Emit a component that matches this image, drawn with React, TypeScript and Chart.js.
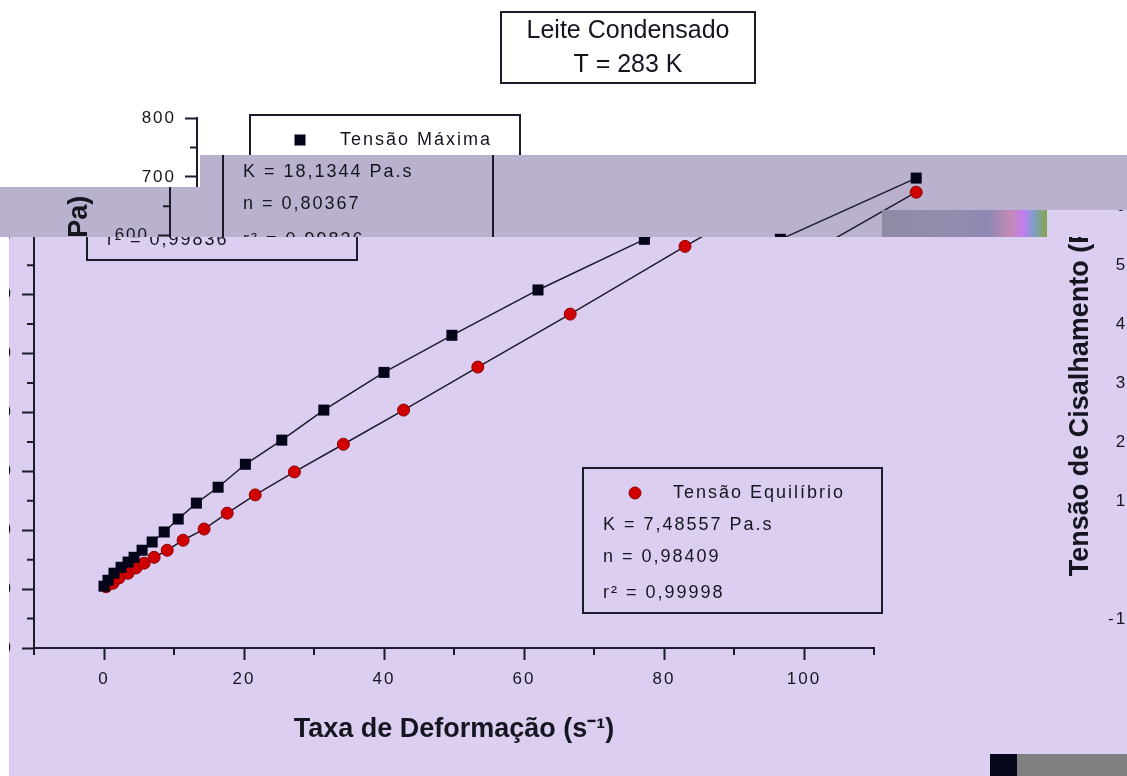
import React, { useEffect, useRef } from "react";
import { Chart, registerables } from "chart.js";

Chart.register(...registerables);

// ---------- data ----------
const maxRate = [0, 0.57, 1.43, 2.44, 3.44, 4.3, 5.44, 6.88, 8.6, 10.6, 13.2, 16.3, 20.2, 25.4, 31.4, 40.0, 49.7, 62.0, 77.2, 96.6];
const maxStress = [5, 15, 27, 37, 46, 54, 66, 80, 97, 119, 146, 173, 212, 253, 304, 368, 431, 508, 594, 698];
const eqRate = [0.29, 1.29, 2.15, 3.44, 4.58, 5.73, 7.16, 9.03, 11.3, 14.3, 17.6, 21.6, 27.2, 34.2, 42.8, 53.4, 66.6, 83.0, 96.6];
const eqStress = [4, 10, 19, 27, 36, 44, 54, 66, 83, 102, 129, 160, 199, 246, 304, 377, 467, 582, 674];

const xMajorTicks = [0, 20, 40, 60, 80, 100];
const xMinorTicks = [-10, 10, 30, 50, 70, 90, 110];
const yMajorTicks = [-100, 0, 100, 200, 300, 400, 500, 600, 700, 800];
const yMinorTicks = [-50, 50, 150, 250, 350, 450, 550, 650, 750];

const titleLines = ["Leite Condensado", "T = 283 K"];
const legendMax = ["Tensão Máxima", "K = 18,1344 Pa.s", "n = 0,80367", "r² = 0,99836"];
const legendEq = ["Tensão Equilíbrio", "K = 7,48557 Pa.s", "n = 0,98409", "r² = 0,99998"];
const xAxisTitle = "Taxa de Deformação (s⁻¹)";
const yAxisTitle = "Tensão de Cisalhamento (Pa)";

// ---------- styles ----------
const FONT = "'Liberation Sans', Arial, sans-serif";
const AXIS = "#1b1b2c";
const TEXT = "#151520";
const BLACK_PT = "#05051a";
const RED_PT = "#d00000";
const RED_EDGE = "#8c0000";
const LAVENDER = "#dccef0";
const BAND = "#b9b1cd";
const W = 1127;
const H = 776;

const spacingPlugin = {
  id: "spacing",
  beforeDraw(chart: any) {
    chart.ctx.letterSpacing = "0px";
  },
  beforeDatasetsDraw(chart: any) {
    chart.ctx.letterSpacing = "2px";
  },
  afterDraw(chart: any) {
    chart.ctx.letterSpacing = "0px";
  },
};

const minorTickPlugin = {
  id: "minorTicks",
  afterDraw(chart: any) {
    const { ctx, chartArea, scales } = chart;
    ctx.save();
    ctx.strokeStyle = AXIS;
    ctx.lineWidth = 2;
    ctx.beginPath();
    xMinorTicks.forEach((v) => {
      const px = scales.x.getPixelForValue(v);
      ctx.moveTo(px, chartArea.bottom);
      ctx.lineTo(px, chartArea.bottom + 7);
    });
    yMinorTicks.forEach((v) => {
      const py = scales.y.getPixelForValue(v);
      ctx.moveTo(chartArea.left - 7, py);
      ctx.lineTo(chartArea.left, py);
    });
    ctx.stroke();
    ctx.restore();
  },
};

function drawLegend(ctx: any, x: number, y: number, w: number, lines: string[], symbol: "square" | "circle") {
  const h = 145;
  ctx.lineWidth = 2;
  ctx.strokeStyle = AXIS;
  ctx.strokeRect(x, y, w, h);
  const rows = [25, 57, 89, 125];
  if (symbol === "square") {
    ctx.fillStyle = BLACK_PT;
    ctx.fillRect(x + 50 - 5.5, y + rows[0] - 5.5, 11, 11);
  } else {
    ctx.beginPath();
    ctx.arc(x + 52, y + rows[0], 6, 0, Math.PI * 2);
    ctx.fillStyle = RED_PT;
    ctx.fill();
    ctx.lineWidth = 1;
    ctx.strokeStyle = RED_EDGE;
    ctx.stroke();
  }
  ctx.fillStyle = TEXT;
  ctx.font = `18px ${FONT}`;
  ctx.letterSpacing = "2px";
  ctx.textAlign = "left";
  ctx.textBaseline = "middle";
  ctx.fillText(lines[0], x + 90, y + rows[0]);
  for (let i = 1; i < 4; i++) ctx.fillText(lines[i], x + 20, y + rows[i]);
}

const boxesPlugin = {
  id: "boxes",
  afterDraw(chart: any) {
    const { ctx } = chart;
    ctx.save();
    // title box
    ctx.lineWidth = 2;
    ctx.strokeStyle = AXIS;
    ctx.strokeRect(501, 12, 254, 71);
    ctx.fillStyle = TEXT;
    ctx.font = `25px ${FONT}`;
    ctx.letterSpacing = "0px";
    ctx.textAlign = "center";
    ctx.textBaseline = "middle";
    ctx.fillText(titleLines[0], 628, 31);
    ctx.fillText(titleLines[1], 628, 65);
    // legends
    drawLegend(ctx, 250, 115, 270, legendMax, "square");
    drawLegend(ctx, 746, 468, 299, legendEq, "circle");
    ctx.letterSpacing = "0px";
    ctx.restore();
  },
};

function ChartCanvas({ left, top }: { left: number; top: number }) {
  const ref = useRef<HTMLCanvasElement | null>(null);
  useEffect(() => {
    if (!ref.current) return;
    const chart = new Chart(ref.current, {
      type: "scatter",
      data: {
        datasets: [
          {
            label: legendMax[0],
            data: maxRate.map((x, i) => ({ x, y: maxStress[i] })),
            showLine: true,
            borderColor: AXIS,
            borderWidth: 1.5,
            pointStyle: "rect",
            pointRadius: 7.8,
            pointBackgroundColor: BLACK_PT,
            pointBorderColor: BLACK_PT,
            pointBorderWidth: 0,
          },
          {
            label: legendEq[0],
            data: eqRate.map((x, i) => ({ x, y: eqStress[i] })),
            showLine: true,
            borderColor: AXIS,
            borderWidth: 1.5,
            pointStyle: "circle",
            pointRadius: 6,
            pointBackgroundColor: RED_PT,
            pointBorderColor: RED_EDGE,
            pointBorderWidth: 1,
          },
        ],
      },
      options: {
        responsive: false,
        animation: false,
        devicePixelRatio: 1,
        events: [],
        layout: { padding: { left: 0, right: W - 1037, top: 118, bottom: 0 } },
        plugins: { legend: { display: false }, tooltip: { enabled: false }, title: { display: false } },
        scales: {
          x: {
            type: "linear",
            min: -10,
            max: 110,
            afterBuildTicks: (s: any) => {
              s.ticks = xMajorTicks.map((v) => ({ value: v }));
            },
            afterFit: (s: any) => {
              s.height = H - 648;
            },
            grid: { display: true, drawOnChartArea: false, drawTicks: true, tickLength: 12, tickWidth: 2, tickColor: AXIS },
            border: { display: true, color: AXIS, width: 2 },
            ticks: { z: 1, color: TEXT, padding: 9, font: { family: FONT, size: 17 }, maxRotation: 0, autoSkip: false },
            title: {
              display: true,
              text: xAxisTitle,
              color: TEXT,
              font: { family: FONT, size: 27, weight: "bold" },
              padding: { top: 0, bottom: 30 },
            },
          },
          y: {
            type: "linear",
            min: -100,
            max: 800,
            afterBuildTicks: (s: any) => {
              s.ticks = yMajorTicks.map((v) => ({ value: v }));
            },
            afterFit: (s: any) => {
              s.width = 197;
            },
            grid: { display: true, drawOnChartArea: false, drawTicks: true, tickLength: 12, tickWidth: 2, tickColor: AXIS },
            border: { display: true, color: AXIS, width: 2 },
            ticks: { z: 1, color: TEXT, padding: 9, font: { family: FONT, size: 17 }, autoSkip: false },
            title: {
              display: true,
              text: yAxisTitle,
              color: TEXT,
              font: { family: FONT, size: 27, weight: "bold" },
              padding: { top: 90, bottom: 0 },
            },
          },
        },
      } as any,
      plugins: [spacingPlugin, minorTickPlugin, boxesPlugin],
    });
    return () => chart.destroy();
  }, []);
  return (
    <canvas
      ref={ref}
      width={W}
      height={H}
      style={{ position: "absolute", left, top, width: W, height: H, display: "block" }}
    />
  );
}

// windows of the (damaged) picture: page rectangle + where the chart origin lands on the page
const layers = [
  { x: 0, y: 0, w: 1127, h: 155, ox: 0, oy: 0, bg: "#ffffff" },
  { x: 0, y: 155, w: 200, h: 32, ox: 0, oy: 0, bg: "#ffffff" },
  { x: 200, y: 155, w: 927, h: 82, ox: -27, oy: 0, bg: BAND },
  { x: 0, y: 187, w: 200, h: 50, ox: -27, oy: 0, bg: BAND },
  { x: 9, y: 237, w: 955, h: 539, ox: -163, oy: 0, bg: LAVENDER },
  { x: 964, y: 237, w: 140, h: 539, ox: 974, oy: 6, bg: LAVENDER },
  { x: 1104, y: 210, w: 23, h: 566, ox: 974, oy: -29, bg: LAVENDER },
];

function Layer({ x, y, w, h, ox, oy, bg }: any) {
  return (
    <div style={{ position: "absolute", left: x, top: y, width: w, height: h, overflow: "hidden", background: bg }}>
      <ChartCanvas left={ox - x} top={oy - y} />
    </div>
  );
}

export default function App() {
  return (
    <div style={{ position: "absolute", left: 0, top: 0, width: W, height: H, overflow: "hidden", background: "#ffffff" }}>
      {layers.map((l, i) => (
        <Layer key={i} {...l} />
      ))}
      <div style={{ position: "absolute", left: 1047, top: 210, width: 57, height: 27, background: LAVENDER }} />
      <div
        style={{
          position: "absolute",
          left: 882,
          top: 210,
          width: 165,
          height: 27,
          background:
            "linear-gradient(90deg, #8f8aa6 0%, #938db0 45%, #8e88b2 65%, #c38ab4 78%, #c27cf2 86%, #7da0c8 92%, #86a64a 100%)",
        }}
      />
      <div style={{ position: "absolute", left: 990, top: 754, width: 27, height: 22, background: "#07071a" }} />
      <div style={{ position: "absolute", left: 1017, top: 754, width: 110, height: 22, background: "#808080" }} />
    </div>
  );
}
